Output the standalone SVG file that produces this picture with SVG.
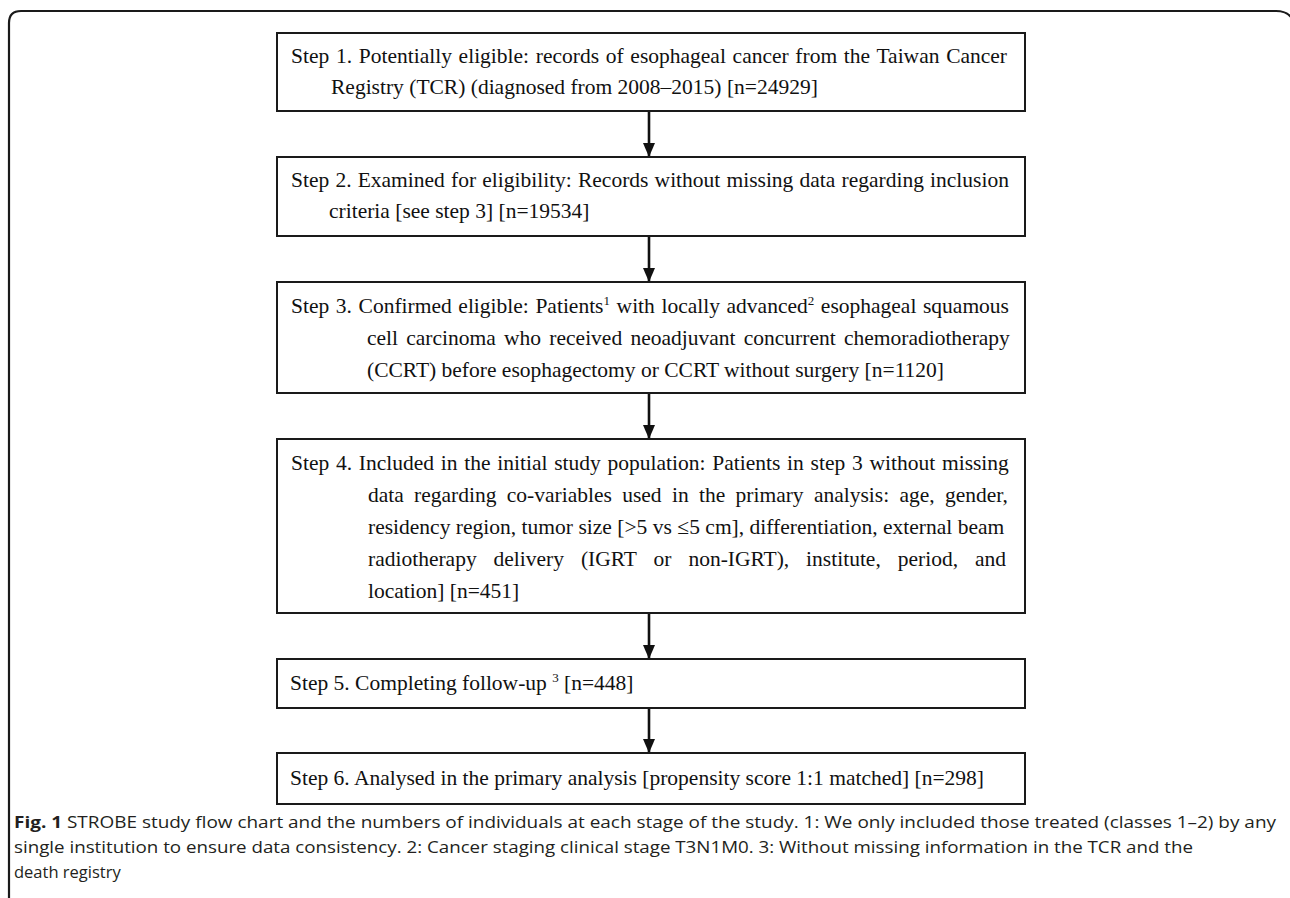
<svg xmlns="http://www.w3.org/2000/svg" width="1290" height="898" viewBox="0 0 1290 898">
  <style>
    .box { fill: #ffffff; stroke: #1a1a1a; stroke-width: 2; }
    .t { font-family: "Liberation Serif", "Times New Roman", serif; font-size: 21.5px; fill: #111111; }
    .sup { font-size: 13px; }
    .conn { stroke: #111111; stroke-width: 2.6; fill: none; }
    .cap { font-family: "Open Sans", "Liberation Sans", sans-serif; font-size: 16.5px; fill: #231f20; }
    .capb { font-weight: bold; }
    .frame { fill: none; stroke: #1a1a1a; stroke-width: 2.2; }
  </style>
  <defs>
    <marker id="arrow" markerUnits="userSpaceOnUse" viewBox="0 0 14 12" markerWidth="14" markerHeight="12" refX="13" refY="6" orient="auto">
      <path d="M0,0 L14,6 L0,12 Z" fill="#111111"/>
    </marker>
  </defs>
  <rect x="0" y="0" width="1290" height="898" fill="#ffffff"/>
  <path class="frame" d="M9,898 L9,23 Q9,11 21,11 L1276,11 Q1286,11 1291,17"/>

  <g id="connectors">
    <line class="conn" x1="649" y1="111" x2="649" y2="156" marker-end="url(#arrow)"/>
    <line class="conn" x1="649" y1="236" x2="649" y2="281" marker-end="url(#arrow)"/>
    <line class="conn" x1="649" y1="393" x2="649" y2="438" marker-end="url(#arrow)"/>
    <line class="conn" x1="649" y1="613" x2="649" y2="658" marker-end="url(#arrow)"/>
    <line class="conn" x1="649" y1="708" x2="649" y2="752" marker-end="url(#arrow)"/>
  </g>

  <g id="node1">
    <rect class="box" x="277" y="33" width="748" height="78"/>
    <text class="t" x="291" y="63" word-spacing="1.33">Step 1. Potentially eligible: records of esophageal cancer from the Taiwan Cancer</text>
    <text class="t" x="331" y="94">Registry (TCR) (diagnosed from 2008–2015) [n=24929]</text>
  </g>

  <g id="node2">
    <rect class="box" x="277" y="157" width="748" height="79"/>
    <text class="t" x="291" y="187" word-spacing="0.79">Step 2. Examined for eligibility: Records without missing data regarding inclusion</text>
    <text class="t" x="329" y="218">criteria [see step 3] [n=19534]</text>
  </g>

  <g id="node3">
    <rect class="box" x="277" y="282" width="748" height="111"/>
    <text class="t" x="291" y="313" word-spacing="1.24">Step 3. Confirmed eligible: Patients<tspan class="sup" dy="-8">1</tspan><tspan dy="8"> with locally advanced</tspan><tspan class="sup" dy="-8">2</tspan><tspan dy="8"> esophageal squamous</tspan></text>
    <text class="t" x="367" y="345" word-spacing="2.88">cell carcinoma who received neoadjuvant concurrent chemoradiotherapy</text>
    <text class="t" x="367" y="377">(CCRT) before esophagectomy or CCRT without surgery [n=1120]</text>
  </g>

  <g id="node4">
    <rect class="box" x="277" y="439" width="748" height="174"/>
    <text class="t" x="291" y="470" word-spacing="1.38">Step 4. Included in the initial study population: Patients in step 3 without missing</text>
    <text class="t" x="368" y="502" word-spacing="4.94">data regarding co-variables used in the primary analysis: age, gender,</text>
    <text class="t" x="368" y="534" word-spacing="0.08">residency region, tumor size [&gt;5 vs ≤5 cm], differentiation, external beam</text>
    <text class="t" x="368" y="566" word-spacing="11.56">radiotherapy delivery (IGRT or non-IGRT), institute, period, and</text>
    <text class="t" x="368" y="598">location] [n=451]</text>
  </g>

  <g id="node5">
    <rect class="box" x="277" y="659" width="748" height="49"/>
    <text class="t" x="290" y="690">Step 5. Completing follow-up <tspan class="sup" dy="-8">3</tspan><tspan dy="8"> [n=448]</tspan></text>
  </g>

  <g id="node6">
    <rect class="box" x="277" y="753" width="748" height="51"/>
    <text class="t" x="290" y="785">Step 6. Analysed in the primary analysis [propensity score 1:1 matched] [n=298]</text>
  </g>

  <g id="caption">
    <text class="cap" x="14" y="828" textLength="1262" lengthAdjust="spacingAndGlyphs"><tspan class="capb">Fig. 1</tspan> STROBE study flow chart and the numbers of individuals at each stage of the study. 1: We only included those treated (classes 1–2) by any</text>
    <text class="cap" x="14" y="853" textLength="1179" lengthAdjust="spacingAndGlyphs">single institution to ensure data consistency. 2: Cancer staging clinical stage T3N1M0. 3: Without missing information in the TCR and the</text>
    <text class="cap" x="14" y="878">death registry</text>
  </g>
</svg>
